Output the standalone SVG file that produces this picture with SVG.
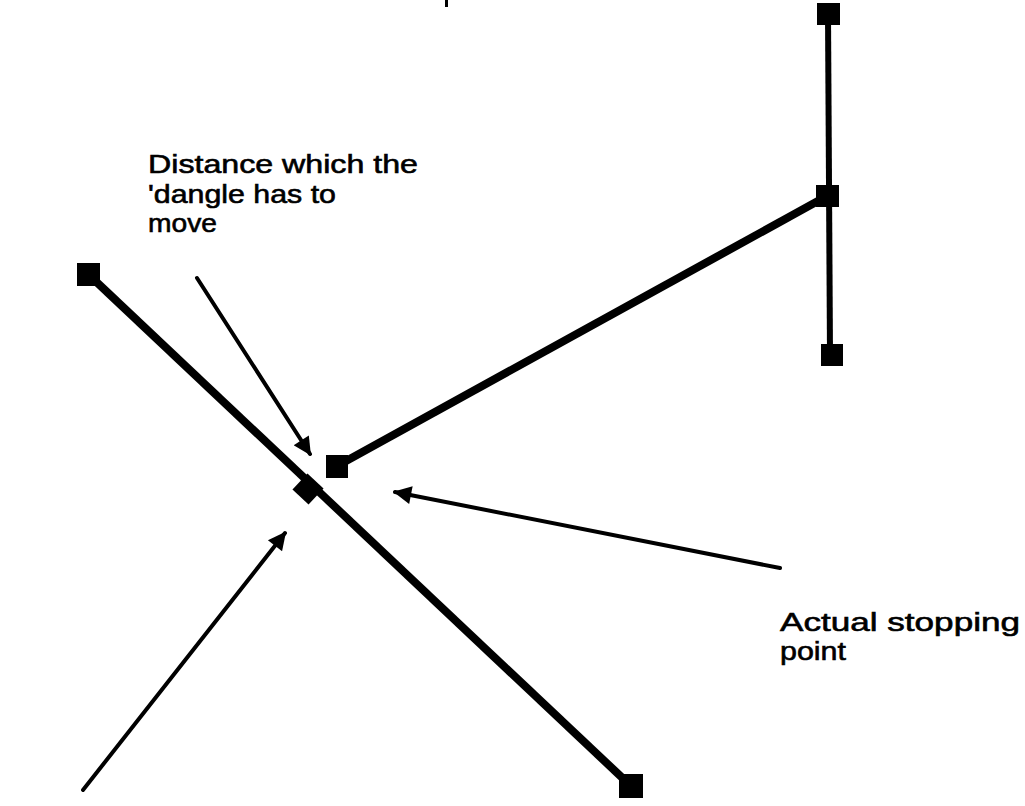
<svg xmlns="http://www.w3.org/2000/svg" width="1025" height="806" viewBox="0 0 1025 806">
<style>
.lbl{font-family:"Liberation Sans",Arial,sans-serif;font-size:26.5px;fill:#000;stroke:#000;stroke-width:0.6}
.thick{stroke:#000;stroke-width:8;fill:none}
.vert{stroke:#000;stroke-width:6;fill:none}
.arr{stroke:#000;stroke-width:4;fill:none;stroke-linecap:round}
.node{fill:#000}
</style>
<defs>
<marker id="ah" viewBox="0 0 10 10" refX="9" refY="5" markerWidth="6" markerHeight="4.5" orient="auto" markerUnits="strokeWidth">
<path d="M0,0 L10,5 L0,10 z" fill="#000"/>
</marker>
</defs>
<rect width="1025" height="806" fill="#fff"/>
<rect x="445" y="0" width="3" height="7" fill="#000"/>
<g id="edges">
<line class="vert" x1="828" y1="14" x2="830" y2="354"/>
<line class="thick" x1="827" y1="196" x2="337" y2="466"/>
<line class="thick" x1="88" y1="274" x2="631" y2="786"/>
</g>
<g id="connectors">
<line class="arr" x1="197" y1="278" x2="310" y2="454" marker-end="url(#ah)"/>
<line class="arr" x1="780" y1="568" x2="395" y2="492" marker-end="url(#ah)"/>
<line class="arr" x1="83" y1="790" x2="285" y2="533" marker-end="url(#ah)"/>
</g>
<g id="node-top"><rect class="node" x="817" y="3" width="23" height="22"/></g>
<g id="node-mid"><rect class="node" x="816" y="185" width="23" height="22"/></g>
<g id="node-bottom"><rect class="node" x="821" y="344" width="22" height="22"/></g>
<g id="node-dangle"><rect class="node" x="326" y="455" width="22" height="23"/></g>
<g id="node-cross"><rect class="node" x="-11" y="-11" width="22" height="22" transform="translate(308,489) rotate(43)"/></g>
<g id="node-left"><rect class="node" x="77" y="263" width="23" height="23"/></g>
<g id="node-right"><rect class="node" x="619" y="774" width="24" height="24"/></g>
<g id="label-distance">
<text class="lbl" x="148" y="173" textLength="270" lengthAdjust="spacingAndGlyphs">Distance which the</text>
<text class="lbl" x="148" y="203" textLength="188" lengthAdjust="spacingAndGlyphs">'dangle has to</text>
<text class="lbl" x="148" y="232" textLength="69" lengthAdjust="spacingAndGlyphs">move</text>
</g>
<g id="label-actual">
<text class="lbl" x="780" y="631" textLength="240" lengthAdjust="spacingAndGlyphs">Actual stopping</text>
<text class="lbl" x="780" y="660" textLength="66" lengthAdjust="spacingAndGlyphs">point</text>
</g>
</svg>
